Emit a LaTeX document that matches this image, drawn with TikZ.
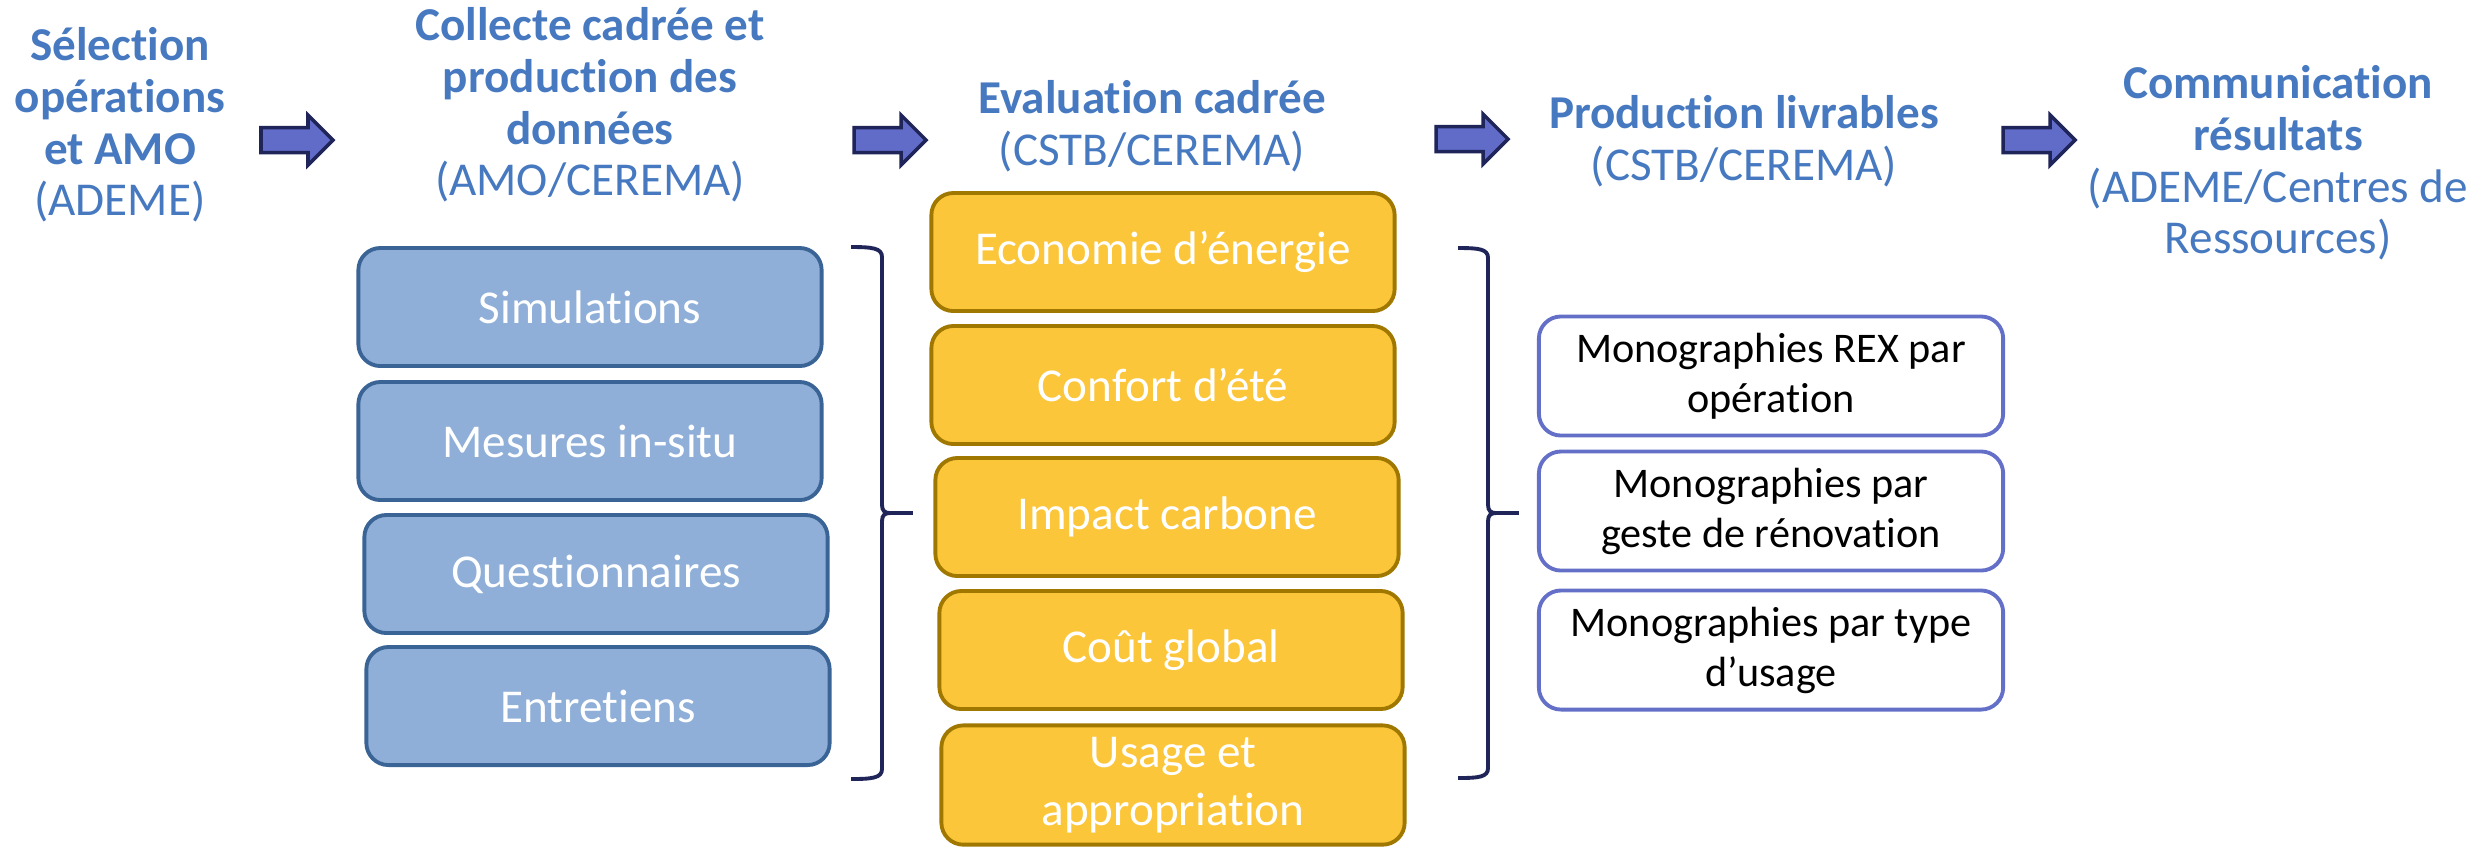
\documentclass[tikz,border=0pt]{standalone}
\usepackage{fontspec}
\setmainfont{Carlito}[Ligatures={TeX,CommonOff}]
\usetikzlibrary{positioning}

\definecolor{titleblue}{HTML}{4679C0}
\definecolor{arrowfill}{HTML}{606CC8}
\definecolor{arrowline}{HTML}{1F2459}
\definecolor{boxblue}{HTML}{8FAFD8}
\definecolor{boxblueline}{HTML}{3A6496}
\definecolor{boxyellow}{HTML}{FCC63A}
\definecolor{boxyellowline}{HTML}{A07800}
\definecolor{boxwhiteline}{HTML}{6470C8}

\tikzset{
  bracket/.style={draw=arrowline, line width=1.1pt},
  blockarrow/.style={draw=arrowline, fill=arrowfill, line width=1pt},
  stepbox/.style={rounded corners=0.22cm, line width=1.1pt, minimum width=4.63cm, minimum height=1.18cm, align=center}
}

\begin{document}
\begin{tikzpicture}[x=0.01cm,y=-0.01cm]
  \useasboundingbox (0,0) rectangle (2492,847);

  \begin{scope}[every node/.style={align=center, text=titleblue, font=\fontsize{13.4}{14.7}\selectfont}]
    \node (h1) at (120,125)  {\textbf{Sélection}\\\textbf{opérations}\\\textbf{et AMO}\\(ADEME)};
    \node (h2) at (590,105)  {\textbf{Collecte cadrée et}\\\textbf{production des}\\\textbf{données}\\(AMO/CEREMA)};
    \node (h3) at (1152,126) {\textbf{Evaluation cadrée}\\(CSTB/CEREMA)};
    \node (h4) at (1744,141) {\textbf{Production livrables}\\(CSTB/CEREMA)};
    \node (h5) at (2278,163) {\textbf{Communication}\\\textbf{résultats}\\(ADEME/Centres de\\Ressources)};
  \end{scope}

  \coordinate (a1) at (333,140);
  \coordinate (a2) at (926,140);
  \coordinate (a3) at (1508,139);
  \coordinate (a4) at (2075,140);
  \draw[blockarrow] (a1) -- ++(-25,-25) -- ++(0,12.5) -- ++(-47,0) -- ++(0,25) -- ++(47,0) -- ++(0,12.5) -- cycle;
  \draw[blockarrow] (a2) -- ++(-25,-25) -- ++(0,12.5) -- ++(-47,0) -- ++(0,25) -- ++(47,0) -- ++(0,12.5) -- cycle;
  \draw[blockarrow] (a3) -- ++(-25,-25) -- ++(0,12.5) -- ++(-47,0) -- ++(0,25) -- ++(47,0) -- ++(0,12.5) -- cycle;
  \draw[blockarrow] (a4) -- ++(-25,-25) -- ++(0,12.5) -- ++(-47,0) -- ++(0,25) -- ++(47,0) -- ++(0,12.5) -- cycle;

  \begin{scope}[every node/.style={stepbox, draw=boxblueline, fill=boxblue, text=white, font=\fontsize{13.4}{16.5}\selectfont}]
    \node (sim) at (590,307) {Simulations};
    \node (mes) at (590,441) {Mesures in-situ};
    \node (que) at (596,574) {Questionnaires};
    \node (ent) at (598,706) {Entretiens};
  \end{scope}

  \begin{scope}[every node/.style={stepbox, draw=boxyellowline, fill=boxyellow, text=white, font=\fontsize{13.4}{16.5}\selectfont}]
    \node (eco) at (1163,252) {Economie d’énergie};
    \node (con) at (1163,385) {Confort d’été};
    \node (imp) at (1167,517) {Impact carbone};
    \node (cou) at (1171,650) {Coût global};
    \node (usa) at (1173,785) {Usage et\\appropriation};
  \end{scope}

  \begin{scope}[every node/.style={stepbox, draw=boxwhiteline, fill=white, text=black, minimum width=4.64cm, minimum height=1.19cm, font=\fontsize{12}{14.2}\selectfont}]
    \node (mo1) at (1771,376) {Monographies REX par\\opération};
    \node (mo2) at (1771,511) {Monographies par\\geste de rénovation};
    \node (mo3) at (1771,650) {Monographies par type\\d’usage};
  \end{scope}

  \coordinate (k1) at (851,247);
  \coordinate (k2) at (851,779);
  \coordinate (m1) at (890,513);
  \coordinate (t1) at (913,513);
  \draw[bracket] (k1) .. controls (872,247) and (882,248) .. (882,257) -- (882,505)
    .. controls (882,511) and (885,513) .. (m1) .. controls (885,513) and (882,515) .. (882,521)
    -- (882,769) .. controls (882,778) and (872,779) .. (k2);
  \draw[bracket] (m1) -- (t1);

  \coordinate (k3) at (1458,248);
  \coordinate (k4) at (1458,778);
  \coordinate (m2) at (1496,513);
  \coordinate (t2) at (1519,513);
  \draw[bracket] (k3) .. controls (1479,248) and (1488,249) .. (1488,258) -- (1488,505)
    .. controls (1488,511) and (1491,513) .. (m2) .. controls (1491,513) and (1488,515) .. (1488,521)
    -- (1488,768) .. controls (1488,777) and (1479,778) .. (k4);
  \draw[bracket] (m2) -- (t2);

\end{tikzpicture}
\end{document}
